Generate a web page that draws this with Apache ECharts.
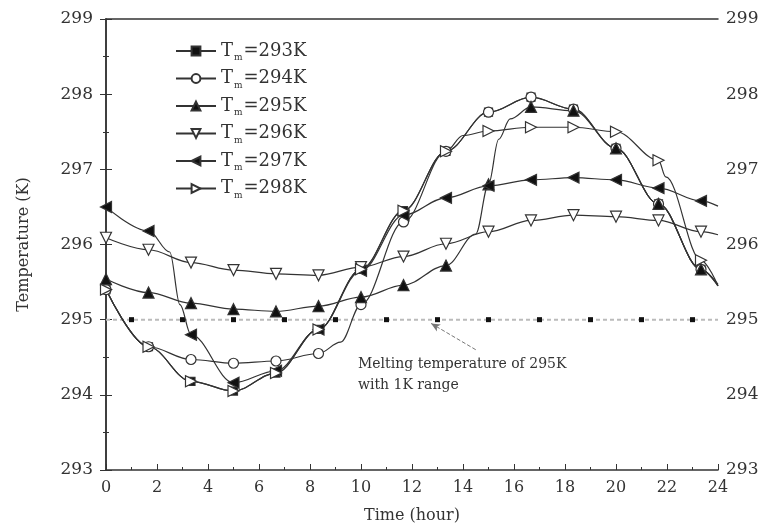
<!DOCTYPE html>
<html>
<head>
<meta charset="utf-8">
<script src="https://cdn.jsdelivr.net/npm/echarts@6/dist/echarts.min.js"></script>
<style>
  html, body { margin: 0; padding: 0; background: #fff; }
  #chart { width: 765px; height: 529px; }
</style>
</head>
<body>
<div id="chart"></div>
<script>
// hours where markers sit (last point, 24 h, is drawn without marker)
var hours = [0, 1.667, 3.333, 5, 6.667, 8.333, 10, 11.667, 13.333, 15, 16.667, 18.333, 20, 21.667, 23.333, 24];

var tm293 = [295.40, 294.64, 294.18, 294.05, 294.29, 294.87, 295.67, 296.45, 297.24, 297.76, 297.96, 297.80, 297.28, 296.54, 295.67, 295.45];
var tm294 = [295.40, 294.64, 294.47, 294.42, 294.45, 294.55, 295.20, 296.30, 297.24, 297.76, 297.96, 297.80, 297.28, 296.54, 295.67, 295.45];
var tm295 = [295.54, 295.36, 295.22, 295.14, 295.11, 295.18, 295.30, 295.46, 295.72, 296.80, 297.83, 297.78, 297.28, 296.54, 295.67, 295.47];
var tm296 = [296.09, 295.93, 295.76, 295.66, 295.61, 295.59, 295.70, 295.84, 296.01, 296.17, 296.32, 296.39, 296.37, 296.32, 296.17, 296.13];
var tm297 = [296.50, 296.18, 294.80, 294.16, 294.32, 294.87, 295.65, 296.39, 296.62, 296.78, 296.86, 296.89, 296.86, 296.75, 296.58, 296.51];
var tm298 = [295.40, 294.64, 294.18, 294.05, 294.29, 294.87, 295.67, 296.45, 297.24, 297.51, 297.56, 297.56, 297.50, 297.12, 295.79, 295.45];

// extra points (no marker) where the line turns sharply
var extra294 = [[9.2, 294.70]];
var extra295 = [[14.5, 296.14], [15.4, 297.40], [15.85, 297.67]];
var extra297 = [[2.5, 295.90], [2.9, 295.20]];
var extra298 = [[14.0, 297.45], [21.95, 296.90]];

// melting band line
var meltHours = [1, 3, 5, 7, 9, 11, 13, 15, 17, 19, 21, 23];
var meltTemp = 295;

var names = ['293K', '294K', '295K', '296K', '297K', '298K'];

var serif = '"DejaVu Serif", "Liberation Serif", serif';
var ink = '#333';

function build(vals, extra) {
  var pts = [];
  for (var i = 0; i < hours.length; i++) {
    var it = { value: [hours[i], vals[i]] };
    if (hours[i] === 24) it.symbol = 'none';
    pts.push(it);
  }
  (extra || []).forEach(function (p) {
    pts.push({ value: p, symbol: 'none' });
  });
  pts.sort(function (a, b) { return a.value[0] - b.value[0]; });
  return pts;
}

function curve(name, vals, extra, symbol, rot, filled) {
  return {
    name: name,
    type: 'line',
    data: build(vals, extra),
    smooth: 0.35,
    smoothMonotone: 'x',
    symbol: symbol,
    symbolRotate: rot,
    symbolSize: symbol === 'rect' ? 8 : (symbol === 'circle' ? 10 : 11),
    showAllSymbol: true,
    lineStyle: { color: ink, width: 1.2 },
    itemStyle: { color: filled ? '#111' : '#fff', borderColor: ink, borderWidth: 1.2 },
    z: 3
  };
}

var meltData = [{ value: [0, meltTemp], symbol: 'none' }];
meltHours.forEach(function (h) { meltData.push([h, meltTemp]); });
meltData.push({ value: [24, meltTemp], symbol: 'none' });

var myChart = echarts.init(document.getElementById('chart'));

var axisFont = { fontFamily: serif, fontSize: 16, color: ink };

var option = {
  animation: false,
  backgroundColor: '#fff',
  textStyle: { fontFamily: serif },
  grid: { left: 106, right: 47, top: 19, bottom: 58 },
  legend: {
    orient: 'vertical',
    left: 170,
    top: 37,
    itemWidth: 40,
    itemHeight: 11,
    itemGap: 7,
    data: names,
    formatter: function (n) { return '{a|T}{b|m}{a|=' + n + '}'; },
    textStyle: {
      color: ink,
      rich: {
        a: { fontFamily: serif, fontSize: 18, color: ink },
        b: { fontFamily: serif, fontSize: 9, color: ink, padding: [14, 1, 0, 1] }
      }
    }
  },
  xAxis: [{
    type: 'value', min: 0, max: 24, interval: 2,
    name: 'Time (hour)', nameLocation: 'middle', nameGap: 38,
    nameTextStyle: axisFont,
    axisLine: { lineStyle: { color: ink, width: 1.5 } },
    axisTick: { inside: true, length: 6, lineStyle: { color: ink } },
    minorTick: { show: true, splitNumber: 2, length: 3, lineStyle: { color: ink } },
    axisLabel: { fontFamily: serif, fontSize: 16, color: ink, margin: 10 },
    splitLine: { show: false }
  }, {
    type: 'value', min: 0, max: 24, interval: 2, position: 'top',
    axisLine: { show: true, lineStyle: { color: ink, width: 1.5 } },
    axisTick: { show: false }, axisLabel: { show: false }, splitLine: { show: false }
  }],
  yAxis: [{
    type: 'value', min: 293, max: 299, interval: 1,
    name: 'Temperature (K)', nameLocation: 'middle', nameGap: 74, nameRotate: 90,
    nameTextStyle: axisFont,
    axisLine: { show: true, lineStyle: { color: ink, width: 1.5 } },
    axisTick: { inside: true, length: 6, lineStyle: { color: ink } },
    minorTick: { show: true, splitNumber: 2, length: 3, lineStyle: { color: ink } },
    axisLabel: { fontFamily: serif, fontSize: 17, color: ink, margin: 13 },
    splitLine: { show: false }
  }, {
    type: 'value', min: 293, max: 299, interval: 1, position: 'right',
    axisLine: { show: true, lineStyle: { color: ink, width: 1.5 } },
    axisTick: { inside: true, length: 6, lineStyle: { color: ink } },
    minorTick: { show: true, splitNumber: 2, length: 3, lineStyle: { color: ink } },
    axisLabel: { fontFamily: serif, fontSize: 17, color: ink, margin: 8 },
    splitLine: { show: false }
  }],
  series: [
    {
      name: 'melt', type: 'line', data: meltData,
      symbol: 'rect', symbolSize: 5,
      lineStyle: { color: '#bbb', width: 2, type: [4, 3] },
      itemStyle: { color: '#111' },
      z: 2,
      markLine: {
        silent: true,
        symbol: ['none', 'arrow'], symbolSize: [6, 9],
        lineStyle: { color: '#777', width: 1, type: 'dashed' },
        label: { show: false },
        data: [[{ coord: [14.5, 294.6] }, { coord: [12.75, 294.95] }]]
      }
    },
    curve('293K', tm293, null, 'rect', 0, true),
    curve('294K', tm294, extra294, 'circle', 0, false),
    curve('295K', tm295, extra295, 'triangle', 0, true),
    curve('296K', tm296, null, 'triangle', 180, false),
    curve('297K', tm297, extra297, 'triangle', 90, true),
    curve('298K', tm298, extra298, 'triangle', -90, false)
  ],
  graphic: [{
    type: 'text', left: 358, top: 354,
    style: {
      text: 'Melting temperature of 295K\nwith 1K range',
      font: '14px ' + serif, fill: ink, lineHeight: 21
    }
  }]
};

myChart.setOption(option);
</script>
</body>
</html>
